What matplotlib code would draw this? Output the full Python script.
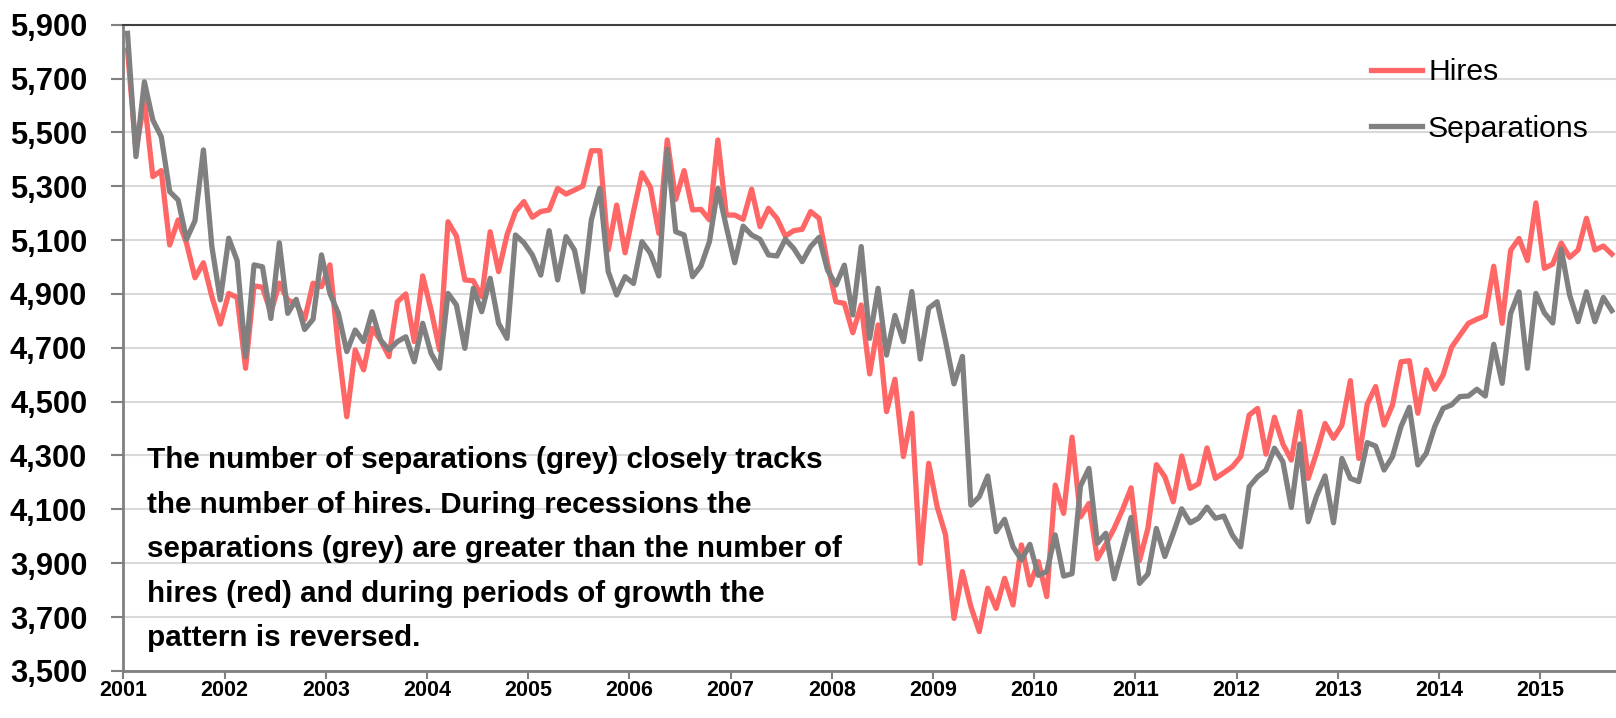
import numpy as np
import matplotlib
matplotlib.use('Agg')
import matplotlib.pyplot as plt

plt.rcParams['font.family'] = ['Liberation Sans', 'DejaVu Sans']

# monthly values, Jan 2001 - Sep 2015 (thousands)
hires = [
    5806, 5430, 5620, 5336, 5358, 5082, 5175, 5088, 4960, 5016, 4890, 4788,
    4902, 4887, 4624, 4930, 4925, 4830, 4940, 4877, 4865, 4805, 4940, 4927,
    5008, 4700, 4444, 4692, 4618, 4772, 4729, 4667, 4871, 4900, 4723, 4967,
    4840, 4692, 5168, 5115, 4952, 4949, 4890, 5131, 4983, 5119, 5206, 5243,
    5185, 5206, 5212, 5292, 5271, 5286, 5301, 5432, 5432, 5063, 5230, 5053,
    5206, 5350, 5296, 5125, 5472, 5251, 5358, 5212, 5214, 5175, 5472, 5193,
    5193, 5177, 5289, 5150, 5218, 5181, 5115, 5135, 5140, 5206, 5181, 5014,
    4871, 4865, 4756, 4859, 4603, 4785, 4463, 4583, 4296, 4457, 3900, 4271,
    4110, 4005, 3695, 3869, 3739, 3646, 3807, 3732, 3844, 3745, 3968, 3819,
    3906, 3776, 4190, 4085, 4368, 4072, 4122, 3916, 3970, 4030, 4100, 4180,
    3910, 4030, 4266, 4221, 4128, 4298, 4178, 4195, 4328, 4215, 4236, 4258,
    4296, 4450, 4475, 4305, 4442, 4343, 4283, 4463, 4215, 4310, 4419, 4364,
    4413, 4578, 4289, 4491, 4556, 4413, 4488, 4648, 4652, 4457, 4618, 4546,
    4599, 4702, 4747, 4791, 4806, 4819, 5003, 4791, 5062, 5106, 5024, 5238,
    4995, 5011, 5089, 5036, 5063, 5181, 5063, 5078, 5048,
]
separations = [
    5868, 5410, 5688, 5546, 5484, 5280, 5249, 5103, 5172, 5435, 5076, 4878,
    5107, 5024, 4667, 5008, 5001, 4809, 5090, 4828, 4880, 4768, 4806, 5045,
    4902, 4828, 4686, 4766, 4723, 4834, 4729, 4692, 4723, 4741, 4648, 4791,
    4679, 4624, 4902, 4859, 4698, 4921, 4834, 4958, 4791, 4735, 5119, 5090,
    5045, 4970, 5135, 4952, 5113, 5063, 4908, 5175, 5292, 4983, 4896, 4964,
    4939, 5094, 5051, 4967, 5437, 5131, 5119, 4964, 5004, 5094, 5292, 5150,
    5016, 5152, 5119, 5103, 5045, 5041, 5103, 5069, 5020, 5076, 5110, 4989,
    4933, 5007, 4822, 5076, 4735, 4921, 4673, 4820, 4723, 4909, 4658, 4847,
    4871, 4725, 4566, 4668, 4116, 4147, 4224, 4017, 4063, 3961, 3912, 3970,
    3855, 3869, 4005, 3852, 3861, 4187, 4252, 3974, 4011, 3842, 3955, 4070,
    3825, 3860, 4029, 3925, 4011, 4102, 4050, 4067, 4108, 4067, 4075, 4005,
    3961, 4184, 4221, 4246, 4327, 4277, 4107, 4343, 4054, 4150, 4224, 4050,
    4289, 4215, 4203, 4348, 4335, 4246, 4296, 4407, 4479, 4265, 4308, 4407,
    4475, 4488, 4519, 4521, 4546, 4521, 4713, 4568, 4827, 4908, 4624, 4902,
    4830, 4792, 5067, 4896, 4797, 4908, 4797, 4887, 4838,
]
years = [str(y) for y in range(2001, 2016)]
note = ("The number of separations (grey) closely tracks\n"
        "the number of hires. During recessions the\n"
        "separations (grey) are greater than the number of\n"
        "hires (red) and during periods of growth the\n"
        "pattern is reversed.")

x = np.arange(len(hires))

fig = plt.figure(figsize=(16.16, 7.18), dpi=100)
ax = fig.add_axes([0.0763, 0.0656, 0.9237, 0.9])

ax.plot(x, hires, color='#FF6666', lw=3.8, label='Hires')
ax.plot(x, separations, color='#808080', lw=3.8, label='Separations')

ax.set_xlim(-0.5, len(hires) - 0.5)
ax.set_ylim(3500, 5900)
ax.set_yticks(np.arange(3500, 5901, 200))
ax.set_yticklabels(['{:,}'.format(v) for v in range(3500, 5901, 200)],
                   fontsize=22.2, fontweight='bold')
ax.set_xticks(np.arange(len(years)) * 12 - 0.5)
ax.set_xticklabels(years, fontsize=15.5, fontweight='bold')

ax.grid(axis='y', color='#D9D9D9', lw=1.5)
ax.set_axisbelow(True)
for s in ['left', 'bottom']:
    ax.spines[s].set_color('#808080')
    ax.spines[s].set_linewidth(2)
ax.spines['top'].set_color('#404040')
ax.spines['top'].set_linewidth(1.5)
ax.spines['right'].set_visible(False)
ax.tick_params(axis='y', length=9, width=1.5, color='#808080', pad=17)
ax.tick_params(axis='x', length=6, width=1.5, color='#808080', pad=0.5)

ax.text(0.016, 0.348, note, transform=ax.transAxes, fontsize=21.3, fontweight='bold',
        va='top', ha='left', linespacing=1.75)

ax.legend(loc='upper right', bbox_to_anchor=(1.0, 0.99), frameon=False, fontsize=21.7,
          handlelength=1.7, handletextpad=0.2, labelspacing=0.95)

fig.savefig('out.png', dpi=100)
